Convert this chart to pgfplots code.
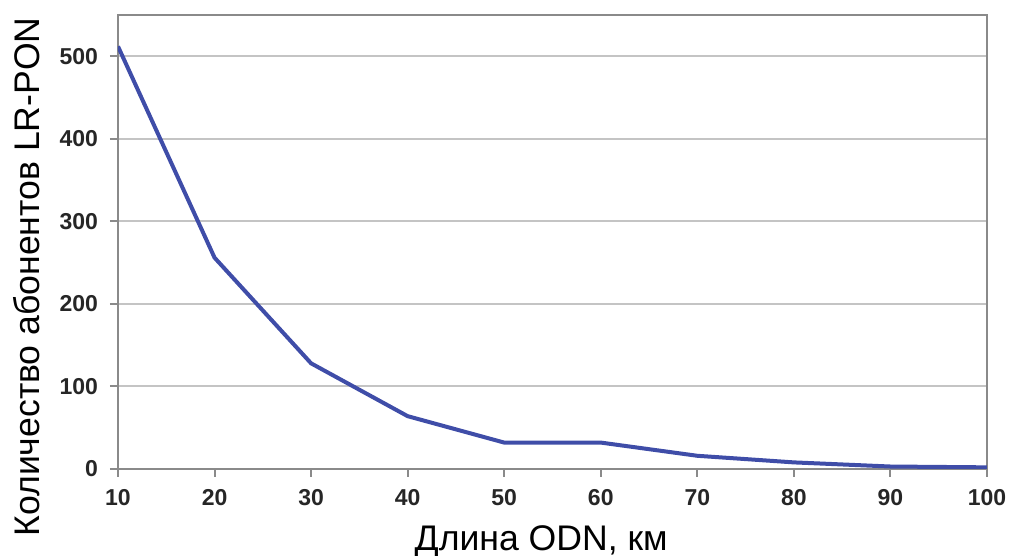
\documentclass[border=0pt]{standalone}
\usepackage{fontspec}
\setmainfont{Liberation Sans}
\usepackage{pgfplots}
\pgfplotsset{compat=1.18}
\definecolor{linecol}{HTML}{3F4DA8}
\definecolor{gridcol}{HTML}{C4C4C4}
\definecolor{axcol}{HTML}{8A8A8A}
\begin{document}
\begin{tikzpicture}
\useasboundingbox (-59pt,-43.5pt) rectangle (445.5pt,234.5pt);
\begin{axis}[
  scale only axis,
  width=434.5pt, height=227pt,
  xmin=10, xmax=100, ymin=0, ymax=550,
  xtick={10,20,...,100},
  ytick={0,100,...,500},
  ymajorgrids,
  grid style={gridcol, line width=1pt},
  axis line style={axcol, line width=1.2pt},
  tick style={axcol, line width=1pt},
  tick align=outside,
  major tick length=4pt,
  xtick pos=bottom, ytick pos=left,
  /pgf/number format/assume math mode=true,
  /pgf/number format/1000 sep={},
  ticklabel style={font=\fontsize{11.5}{13}\selectfont\bfseries, text=black!85},
  xticklabel style={yshift=-2.5pt},
  yticklabel style={xshift=-2.5pt},
  xlabel={Длина ODN, км},
  ylabel={Количество абонентов LR-PON},
  label style={font=\fontsize{17.8}{21}\selectfont, text=black},
  xlabel style={at={(axis description cs:0.487,-0.1806)}, anchor=base},
  ylabel style={at={(axis description cs:-0.1047,0.423)}, anchor=center},
]
\addplot[linecol, line width=2pt] coordinates {
  (10,512) (20,256) (30,128) (40,64) (50,32) (60,32) (70,16) (80,8) (90,3) (100,2)
};
\end{axis}
\end{tikzpicture}
\end{document}
